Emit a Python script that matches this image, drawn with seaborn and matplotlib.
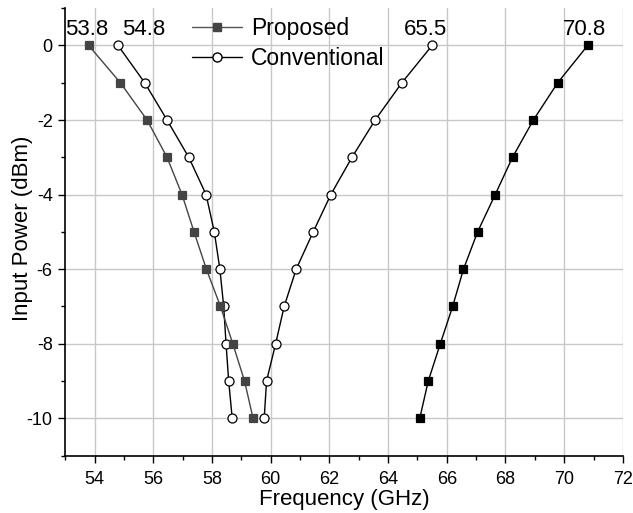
import pandas as pd
import matplotlib
matplotlib.use("Agg")
import matplotlib.pyplot as plt
import seaborn as sns
from matplotlib.ticker import MultipleLocator
from matplotlib.lines import Line2D

# Input power levels (dBm), from 0 down to -10
power = [0, -1, -2, -3, -4, -5, -6, -7, -8, -9, -10]

# Proposed: lower and upper frequency edges (GHz)
prop_low = [53.8, 54.88, 55.79, 56.47, 56.98, 57.39, 57.81, 58.29, 58.71, 59.11, 59.40]
prop_high = [70.8, 69.78, 68.95, 68.24, 67.65, 67.05, 66.57, 66.20, 65.78, 65.37, 65.08]

# Conventional: lower and upper frequency edges (GHz)
conv_low = [54.8, 55.71, 56.47, 57.21, 57.80, 58.08, 58.27, 58.40, 58.48, 58.57, 58.69]
conv_high = [65.5, 64.47, 63.56, 62.77, 62.05, 61.45, 60.87, 60.46, 60.17, 59.86, 59.78]

labels = ["53.8", "54.8", "65.5", "70.8"]

sns.set_style("ticks")
plt.rcParams['font.family'] = ['Liberation Sans', 'DejaVu Sans']
plt.rcParams['axes.unicode_minus'] = False
plt.rcParams['text.color'] = 'black'
plt.rcParams['axes.labelcolor'] = 'black'

fig = plt.figure(figsize=(6.33, 5.13), dpi=100)
ax = fig.add_axes([0.103, 0.112, 0.881, 0.872])

def branch(x, y, name, part):
    return pd.DataFrame({"freq": x, "power": y, "series": name, "part": part})

df = pd.concat([
    branch(prop_low, power, "Proposed", "low"),
    branch(prop_high, power, "Proposed", "high"),
    branch(conv_low, power, "Conventional", "low"),
    branch(conv_high, power, "Conventional", "high"),
], ignore_index=True)

styles = {
    ("Proposed", "low"): dict(color="#444444", marker="s", mfc="#444444", mec="#444444", ms=6),
    ("Proposed", "high"): dict(color="black", marker="s", mfc="black", mec="black", ms=6),
    ("Conventional", "low"): dict(color="black", marker="o", mfc="white", mec="black", ms=6.5),
    ("Conventional", "high"): dict(color="black", marker="o", mfc="white", mec="black", ms=6.5),
}

for (name, part), sub in df.groupby(["series", "part"]):
    st = styles[(name, part)]
    sns.lineplot(data=sub, x="freq", y="power", sort=False, estimator=None,
                 color=st["color"], marker=st["marker"], markersize=st["ms"],
                 markerfacecolor=st["mfc"], markeredgecolor=st["mec"],
                 markeredgewidth=0.9, linewidth=1.0, ax=ax, zorder=3)

ax.set_xlim(53, 72)
ax.set_ylim(-11, 1)
ax.xaxis.set_major_locator(MultipleLocator(2))
ax.xaxis.set_minor_locator(MultipleLocator(1))
ax.yaxis.set_major_locator(MultipleLocator(2))
ax.yaxis.set_minor_locator(MultipleLocator(1))
ax.grid(True, which="major", color="#c8c8c8", linewidth=1.0)
ax.set_axisbelow(True)
for s in ["top", "right"]:
    ax.spines[s].set_visible(False)
for s in ["left", "bottom"]:
    ax.spines[s].set_color("black")
    ax.spines[s].set_linewidth(1.2)
ax.tick_params(which="major", direction="out", length=5, width=1, labelsize=13, colors="black", pad=4)
ax.tick_params(axis="x", which="major", pad=6)
ax.tick_params(which="minor", direction="out", length=3, width=1, colors="black")

ax.set_xlabel("Frequency (GHz)", fontsize=16, color="black")
ax.set_ylabel("Input Power (dBm)", fontsize=16, color="black")
ax.xaxis.set_label_coords(0.5, -0.074)
ax.yaxis.set_label_coords(-0.058, 0.509)

# value labels above the 0 dBm points
offsets = [-1.5, 18.7, -5, -2]
for xv, txt, dx in zip([prop_low[0], conv_low[0], conv_high[0], prop_high[0]], labels, offsets):
    ax.annotate(txt, (xv, power[0]), xytext=(dx, 7.5), textcoords="offset points",
                ha="center", va="baseline", fontsize=16, color="black")

handles = [
    Line2D([], [], color="#555555", marker="s", mfc="#444444", mec="#444444", ms=6, lw=1.0),
    Line2D([], [], color="black", marker="o", mfc="white", mec="black", ms=6.5, lw=1.0),
]
ax.legend(handles, ["Proposed", "Conventional"], loc="upper left",
          bbox_to_anchor=(0.227, 0.980), frameon=False, fontsize=16.5,
          handlelength=2.2, handletextpad=0.4, labelspacing=0.3,
          borderpad=0, borderaxespad=0)

fig.savefig("out.png", dpi=100)
plt.close(fig)
